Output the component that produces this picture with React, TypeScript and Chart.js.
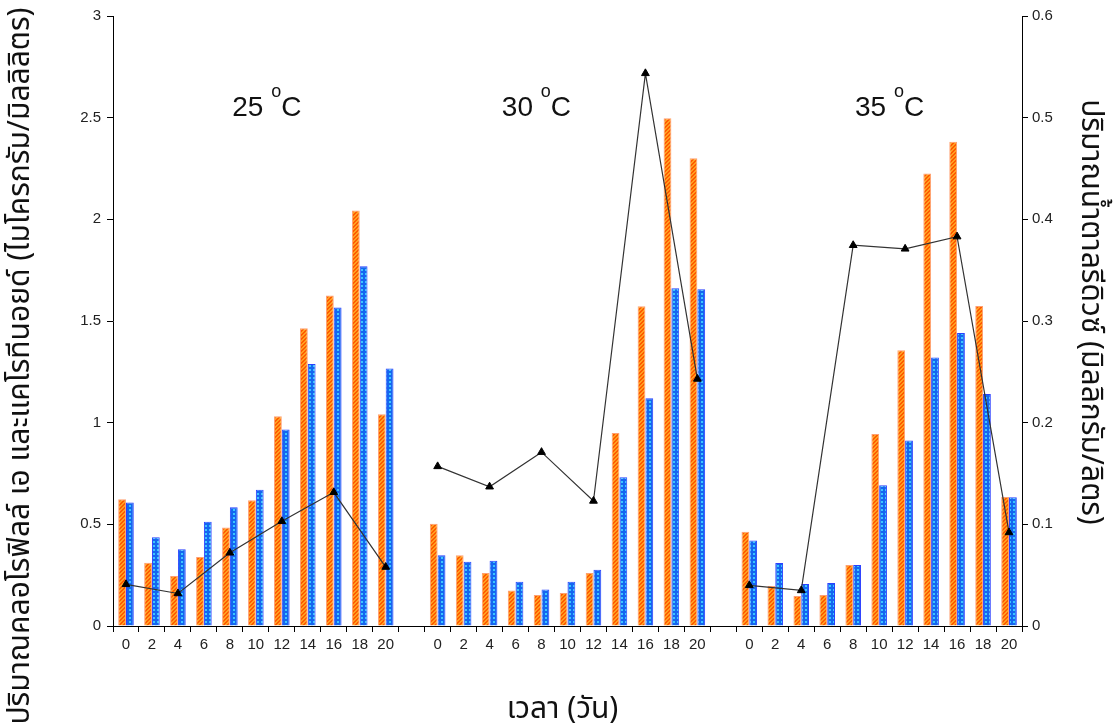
import React, { useEffect, useRef } from 'react';
import { Chart, registerables } from 'chart.js';

Chart.register(...registerables);

// ---- data ----
const dayLabels = ['0', '2', '4', '6', '8', '10', '12', '14', '16', '18', '20'];
const groupTemps = ['25', '30', '35'];

// orange bars (left axis)
const chlA25 = [0.623, 0.311, 0.246, 0.339, 0.485, 0.618, 1.031, 1.464, 1.626, 2.043, 1.041];
const chlA30 = [0.503, 0.348, 0.261, 0.174, 0.152, 0.162, 0.261, 0.949, 1.572, 2.497, 2.300];
const chlA35 = [0.464, 0.197, 0.148, 0.152, 0.300, 0.944, 1.356, 2.225, 2.382, 1.574, 0.634];

// blue bars (left axis)
const car25 = [0.607, 0.436, 0.377, 0.513, 0.584, 0.670, 0.967, 1.289, 1.567, 1.769, 1.266];
const car30 = [0.348, 0.316, 0.321, 0.218, 0.180, 0.218, 0.277, 0.731, 1.120, 1.661, 1.656];
const car35 = [0.420, 0.310, 0.207, 0.211, 0.300, 0.692, 0.912, 1.321, 1.441, 1.141, 0.633];

// line (right axis)
const sugarDays = ['0', '4', '8', '12', '16', '20'];
const sugar25 = [0.041, 0.032, 0.072, 0.103, 0.1315, 0.058];
const sugar30 = [0.157, 0.137, 0.171, 0.123, 0.5436, 0.243];
const sugar35 = [0.040, 0.035, 0.3745, 0.371, 0.383, 0.092];

const leftTicks = { min: 0, max: 3, step: 0.5 };
const rightTicks = { min: 0, max: 0.6, step: 0.1 };

const xTitle = 'เวลา (วัน)';
const yTitle = 'ปริมาณคลอโรฟิลล์ เอ และแคโรทีนอยด์ (ไมโครกรัม/มิลลิลิตร)';
const y1Title = 'ปริมาณน้ำตาลรีดิวซ์ (มิลลิกรัม/ลิตร)';

// ---- derived ----
const labels: string[] = [...dayLabels, '', ...dayLabels, '', ...dayLabels];
const groupSize = dayLabels.length + 1;
const orangeData = [...chlA25, null, ...chlA30, null, ...chlA35];
const blueData = [...car25, null, ...car30, null, ...car35];

function lineFor(groupIndex: number, values: number[]) {
  const arr: (number | null)[] = labels.map(() => null);
  sugarDays.forEach((d, k) => {
    arr[groupIndex * groupSize + dayLabels.indexOf(d)] = values[k];
  });
  return arr;
}

const FONT = '"Liberation Sans", Arial, sans-serif';
const THAI = '"Noto Sans Thai", Tahoma, "Noto Sans", "DejaVu Sans", sans-serif';

function makeOrangePattern(): CanvasPattern | string {
  const c = document.createElement('canvas');
  c.width = 4;
  c.height = 4;
  const g = c.getContext('2d');
  if (!g) return '#ff7a10';
  g.fillStyle = '#ffa020';
  g.fillRect(0, 0, 4, 4);
  g.fillStyle = '#ff5a00';
  for (let i = 0; i < 4; i++) {
    g.fillRect(i, 3 - i, 1, 1);
    g.fillRect(i, (4 - i) % 4, 1, 1);
  }
  return g.createPattern(c, 'repeat') || '#ff7a10';
}

function makeBluePattern(): CanvasPattern | string {
  const c = document.createElement('canvas');
  c.width = 4;
  c.height = 4;
  const g = c.getContext('2d');
  if (!g) return '#1e78ff';
  g.fillStyle = '#1466f0';
  g.fillRect(0, 0, 4, 4);
  g.fillStyle = '#3cc6ff';
  g.fillRect(1, 1, 2, 2);
  return g.createPattern(c, 'repeat') || '#1e78ff';
}

const tempLabelPlugin = {
  id: 'tempLabels',
  afterDatasetsDraw(chart: any) {
    const { ctx, chartArea, scales } = chart;
    const fracs = [0.1312, 0.4278, 0.8163];
    const baseline = scales.y.getPixelForValue(2.51);
    ctx.save();
    ctx.fillStyle = '#111';
    ctx.textBaseline = 'alphabetic';
    ctx.textAlign = 'left';
    groupTemps.forEach((t, i) => {
      let x = chartArea.left + fracs[i] * (chartArea.right - chartArea.left);
      ctx.font = `28px ${FONT}`;
      ctx.fillText(t, x, baseline);
      x += ctx.measureText(t + ' ').width;
      ctx.font = `18px ${FONT}`;
      ctx.fillText('o', x, baseline - 19);
      x += ctx.measureText('o').width;
      ctx.font = `28px ${FONT}`;
      ctx.fillText('C', x, baseline);
    });
    ctx.restore();
  },
};

const axisTitlePlugin = {
  id: 'axisTitles',
  afterDraw(chart: any) {
    const { ctx, width, chartArea } = chart;
    const draw = (text: string, x: number, y: number, rot: number) => {
      ctx.save();
      ctx.fillStyle = '#111';
      ctx.font = `30px ${THAI}`;
      ctx.textAlign = 'center';
      ctx.textBaseline = 'middle';
      ctx.translate(x, y);
      ctx.rotate(rot);
      ctx.fillText(text, 0, 0);
      ctx.restore();
    };
    draw(yTitle, 23, 366, -Math.PI / 2);
    draw(y1Title, width - 25, 312, Math.PI / 2);
    draw(xTitle, (chartArea.left + chartArea.right) / 2 - 5, 712, 0);
  },
};

const fmt = (v: any) => String(Math.round(Number(v) * 100) / 100);

export default function App() {
  const ref = useRef<HTMLCanvasElement | null>(null);

  useEffect(() => {
    if (!ref.current) return;
    const orange = makeOrangePattern();
    const blue = makeBluePattern();
    const lineStyle = {
      type: 'line' as const,
      yAxisID: 'y1',
      borderColor: '#333',
      borderWidth: 1.2,
      pointStyle: 'triangle',
      pointRadius: 4.5,
      pointBackgroundColor: '#000',
      pointBorderColor: '#000',
      pointBorderWidth: 1,
      spanGaps: true,
      order: 0,
    };
    const chart = new Chart(ref.current, {
      type: 'bar',
      data: {
        labels,
        datasets: [
          { ...lineStyle, data: lineFor(0, sugar25) },
          { ...lineStyle, data: lineFor(1, sugar30) },
          { ...lineStyle, data: lineFor(2, sugar35) },
          {
            type: 'bar',
            data: orangeData,
            backgroundColor: orange as any,
            borderColor: '#ffa070',
            borderWidth: 1,
            yAxisID: 'y',
            order: 1,
            categoryPercentage: 0.6,
            barPercentage: 1,
          },
          {
            type: 'bar',
            data: blueData,
            backgroundColor: blue as any,
            borderColor: '#2a40ff',
            borderWidth: 1,
            yAxisID: 'y',
            order: 1,
            categoryPercentage: 0.6,
            barPercentage: 1,
          },
        ] as any,
      },
      options: {
        animation: false,
        responsive: true,
        maintainAspectRatio: false,
        layout: { padding: { top: 16, left: 0, right: 0, bottom: 0 } },
        plugins: {
          legend: { display: false },
          tooltip: { enabled: false },
        },
        scales: {
          x: {
            type: 'category',
            offset: true,
            grid: {
              display: true,
              drawOnChartArea: false,
              drawTicks: true,
              tickLength: 6,
              color: '#000',
              offset: true,
            },
            border: { display: true, color: '#000', width: 1 },
            ticks: {
              autoSkip: false,
              maxRotation: 0,
              minRotation: 0,
              color: '#222',
              font: { family: FONT, size: 15 },
              padding: 4,
            },
            afterFit: (s: any) => {
              s.height = 100;
            },
          },
          y: {
            type: 'linear',
            position: 'left',
            min: leftTicks.min,
            max: leftTicks.max,
            ticks: {
              stepSize: leftTicks.step,
              color: '#222',
              font: { family: FONT, size: 15 },
              padding: 6,
              callback: fmt,
            },
            grid: {
              display: true,
              drawOnChartArea: false,
              drawTicks: true,
              tickLength: 6,
              color: '#000',
            },
            border: { display: true, color: '#000', width: 1 },
            afterFit: (s: any) => {
              s.width = 113;
            },
          },
          y1: {
            type: 'linear',
            position: 'right',
            min: rightTicks.min,
            max: rightTicks.max,
            ticks: {
              stepSize: rightTicks.step,
              color: '#222',
              font: { family: FONT, size: 15 },
              padding: 4,
              callback: fmt,
            },
            grid: {
              display: true,
              drawOnChartArea: false,
              drawTicks: true,
              tickLength: 6,
              color: '#000',
            },
            border: { display: true, color: '#000', width: 1 },
            afterFit: (s: any) => {
              s.width = 91;
            },
          },
        },
      } as any,
      plugins: [tempLabelPlugin, axisTitlePlugin],
    });
    return () => chart.destroy();
  }, []);

  return (
    <div style={{ position: 'fixed', left: 0, top: 0, width: 1113, height: 726, background: '#fff' }}>
      <canvas ref={ref} />
    </div>
  );
}
